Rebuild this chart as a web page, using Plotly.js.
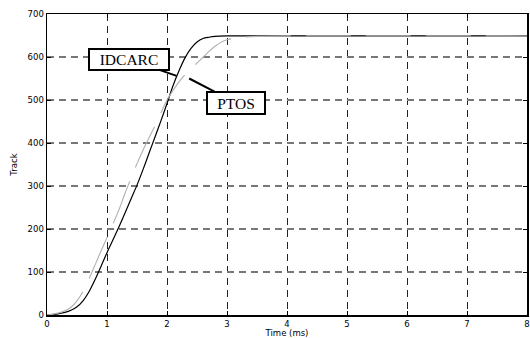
<!DOCTYPE html>
<html>
<head>
<meta charset="utf-8">
<script src="https://cdn.plot.ly/plotly-3.0.1.min.js"></script>
<style>html,body{margin:0;padding:0;background:#fff;}#chart{width:530px;height:338px;}</style>
</head>
<body>
<div id="chart"></div>
<script>
// IDCARC response (black solid)
const idcarcTime = [0, 0.1, 0.2, 0.3, 0.4, 0.5, 0.6, 0.7, 0.8, 0.9, 1.0, 1.1, 1.2, 1.3, 1.4, 1.5, 1.6, 1.7, 1.8, 1.9, 2.0, 2.1, 2.2, 2.3, 2.4, 2.5, 2.6, 2.7, 2.8, 3.0, 8.0];
const idcarcTrack = [0, 1, 3, 6, 11, 19, 33, 54, 82, 113, 145, 175, 205, 237, 270, 302, 338, 376, 414, 452, 492, 533, 568, 598, 620, 635, 643, 646, 648, 649, 649];
// PTOS response (gray dashed)
const ptosTime = [0, 0.1, 0.2, 0.3, 0.4, 0.5, 0.6, 0.7, 0.8, 0.9, 1.0, 1.1, 1.2, 1.3, 1.4, 1.5, 1.6, 1.7, 1.8, 1.9, 2.0, 2.1, 2.2, 2.3, 2.4, 2.5, 2.6, 2.7, 2.8, 2.9, 3.0, 3.2, 3.5, 8.0];
const ptosTrack = [0, 2, 5, 10, 18, 33, 55, 84, 116, 149, 180, 212, 245, 283, 318, 352, 383, 412, 440, 470, 500, 522, 542, 559, 573, 586, 599, 613, 625, 634, 640, 645, 648, 649];
const xTicks = [0, 1, 2, 3, 4, 5, 6, 7, 8];
const yTicks = [0, 100, 200, 300, 400, 500, 600, 700];

const tickFont = {family: 'DejaVu Sans, Arial, sans-serif', size: 8.5, color: '#000'};

const traces = [
  {x: idcarcTime, y: idcarcTrack, type: 'scatter', mode: 'lines', name: 'IDCARC',
   line: {color: '#000', width: 1.2, shape: 'spline', smoothing: 0.8}},
  {x: ptosTime, y: ptosTrack, type: 'scatter', mode: 'lines', name: 'PTOS',
   line: {color: '#b0b0b0', width: 1.1, dash: '45px,15px', shape: 'spline', smoothing: 0.8}}
];

const layout = {
  width: 530, height: 338,
  margin: {l: 47, r: 3, t: 14, b: 23},
  paper_bgcolor: '#fff', plot_bgcolor: '#fff',
  showlegend: false,
  xaxis: {
    range: [0, 8], tickvals: xTicks, ticktext: xTicks.map(String),
    showgrid: true, gridcolor: '#222', gridwidth: 1, griddash: '7px,5px',
    zeroline: false, showline: true, linecolor: '#000', linewidth: 1.5, mirror: 'ticks',
    ticks: 'inside', ticklen: 4, tickcolor: '#000', tickfont: tickFont,
    title: {text: 'Time (ms)', font: {family: 'DejaVu Sans, Arial, sans-serif', size: 8.5, color: '#000'}, standoff: 2}
  },
  yaxis: {
    range: [0, 700], tickvals: yTicks, ticktext: yTicks.map(String),
    showgrid: true, gridcolor: '#777', gridwidth: 1.5, griddash: '7px,5px',
    zeroline: false, showline: true, linecolor: '#000', linewidth: 1.5, mirror: 'ticks',
    ticks: 'inside', ticklen: 4, tickcolor: '#000', tickfont: tickFont,
    title: {text: 'Track', font: {family: 'DejaVu Sans, Arial, sans-serif', size: 8.5, color: '#000'}, standoff: 8}
  },
  annotations: [
    {x: 2.16, y: 556, xref: 'x', yref: 'y', ax: 1.36, ay: 595, axref: 'x', ayref: 'y',
     text: 'IDCARC', showarrow: true, arrowhead: 0, arrowwidth: 2, arrowcolor: '#000',
     font: {family: 'Liberation Serif, Times New Roman, serif', size: 15.5, color: '#000'},
     bgcolor: '#fff', bordercolor: '#000', borderwidth: 2, borderpad: 0, width: 78, height: 19},
    {x: 2.37, y: 550, xref: 'x', yref: 'y', ax: 3.147, ay: 494, axref: 'x', ayref: 'y',
     text: 'PTOS', showarrow: true, arrowhead: 0, arrowwidth: 2, arrowcolor: '#000',
     font: {family: 'Liberation Serif, Times New Roman, serif', size: 15.5, color: '#000'},
     bgcolor: '#fff', bordercolor: '#000', borderwidth: 2, borderpad: 0, width: 56, height: 20}
  ]
};

Plotly.newPlot('chart', traces, layout, {staticPlot: true, displayModeBar: false});
</script>
</body>
</html>
